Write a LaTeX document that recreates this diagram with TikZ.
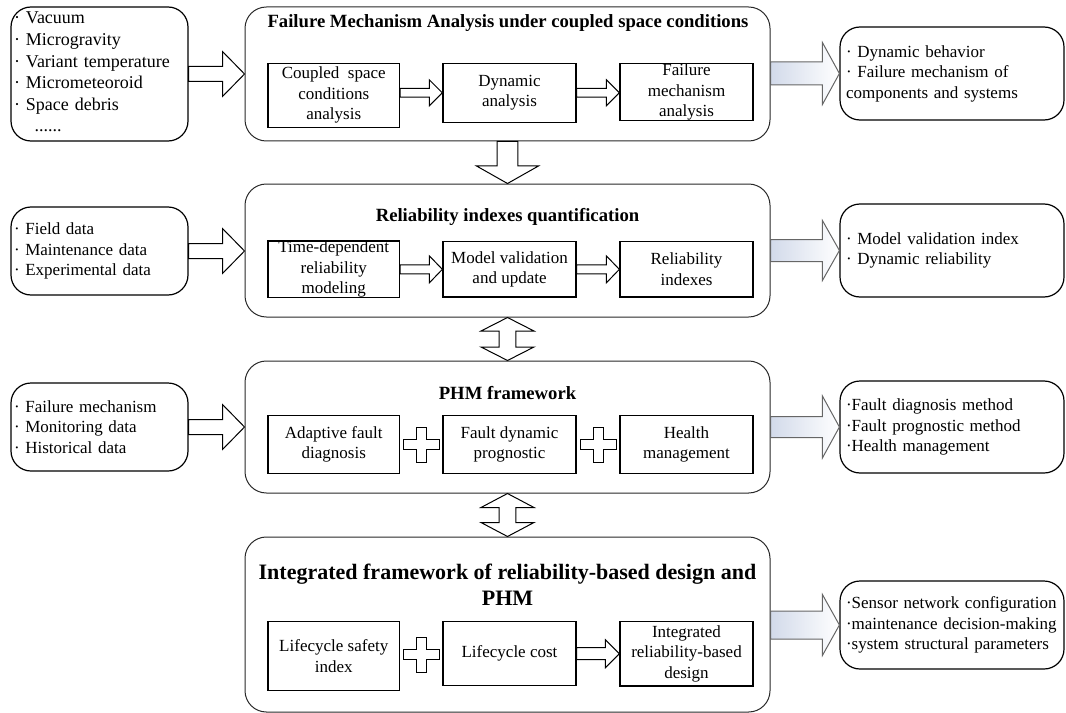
\documentclass[tikz,border=0pt]{standalone}
\usepackage{fontspec}
\setmainfont{Liberation Serif}
\usetikzlibrary{calc}
\definecolor{arrowblue}{RGB}{210,218,234}
\definecolor{boxline}{RGB}{40,40,40}
\tikzset{
  body/.style={font=\rmfamily\fontsize{12.75pt}{15.4pt}\selectfont},
  sidebox/.style={draw=black, line width=0.9pt, rounded corners=15pt, inner ysep=0pt, align=left, body},
  lbox/.style={sidebox, inner xsep=2.25pt, text width=128.25pt, minimum width=132.75pt},
  rbox/.style={sidebox, inner xsep=4.5pt, text width=159pt, minimum width=168pt},
  mainbox/.style={draw=boxline, line width=0.75pt, rounded corners=16pt, minimum width=393.75pt, inner sep=0pt},
  ibox/.style={draw=black, line width=1pt, inner sep=0pt, align=center, body},
  ttl/.style={font=\rmfamily\fontsize{14pt}{16.8pt}\selectfont\bfseries, align=center, inner sep=0pt},
  bigttl/.style={font=\rmfamily\fontsize{16.5pt}{19.7pt}\selectfont\bfseries, align=center, inner sep=0pt},
  warrow/.style={draw=black, line width=0.75pt, fill=white, line join=miter},
  barrow/.style={draw=black!60, line width=0.75pt, left color=arrowblue, right color=white},
  plusshape/.style={draw=black, line width=0.75pt, fill=white},
}
% horizontal block arrow: style, start, tip, shaft half, head half, head length
\newcommand\hblockarrow[6]{%
  \draw[#1] ($(#2)+(0,-#4)$) -- ($(#3)+(-#6,-#4)$) -- ($(#3)+(-#6,-#5)$) -- (#3)
    -- ($(#3)+(-#6,#5)$) -- ($(#3)+(-#6,#4)$) -- ($(#2)+(0,#4)$) -- cycle;}
% vertical (downward) block arrow
\newcommand\vblockarrow[6]{%
  \draw[#1] ($(#2)+(-#4,0)$) -- ($(#3)+(-#4,-#6)$) -- ($(#3)+(-#5,-#6)$) -- (#3)
    -- ($(#3)+(#5,-#6)$) -- ($(#3)+(#4,-#6)$) -- ($(#2)+(#4,0)$) -- cycle;}
% vertical double block arrow
\newcommand\dblockarrow[6]{%
  \draw[#1] (#2) -- ($(#2)+(#5,#6)$) -- ($(#2)+(#4,#6)$) -- ($(#3)+(#4,-#6)$)
    -- ($(#3)+(#5,-#6)$) -- (#3) -- ($(#3)+(-#5,-#6)$) -- ($(#3)+(-#4,-#6)$)
    -- ($(#2)+(-#4,#6)$) -- ($(#2)+(-#5,#6)$) -- cycle;}
% plus sign
\newcommand\myplus[1]{%
  \draw[plusshape] ($(#1)+(-5,-17.5)$) -- ($(#1)+(5,-17.5)$) -- ($(#1)+(5,-5)$)
    -- ($(#1)+(18,-5)$) -- ($(#1)+(18,5)$) -- ($(#1)+(5,5)$) -- ($(#1)+(5,17.5)$)
    -- ($(#1)+(-5,17.5)$) -- ($(#1)+(-5,5)$) -- ($(#1)+(-18,5)$) -- ($(#1)+(-18,-5)$)
    -- ($(#1)+(-5,-5)$) -- cycle;}
\begin{document}
\begin{tikzpicture}[x=0.75pt,y=-0.75pt]
\useasboundingbox (0,0) rectangle (1066,713);

% ---------- left boxes ----------
\node[lbox, minimum height=134*0.75pt, font=\rmfamily\fontsize{13.5pt}{16.2pt}\selectfont] (L1) at (99.5,74)
  {· Vacuum\\ · Microgravity\\ · Variant temperature\\ · Micrometeoroid\\ · Space debris\\ \hspace*{1.15em}......\vphantom{p}};
\node[lbox, minimum height=88*0.75pt] (L2) at (99.5,251)
  {· Field data\\ · Maintenance data\\ · Experimental data};
\node[lbox, minimum height=88*0.75pt] (L3) at (99.5,427)
  {· Failure mechanism\\ · Monitoring data\\ · Historical data};

% ---------- main boxes ----------
\node[mainbox, minimum height=134*0.75pt] (M1) at (507.5,74) {};
\node[mainbox, minimum height=133*0.75pt] (M2) at (507.5,250.5) {};
\node[mainbox, minimum height=132*0.75pt] (M3) at (507.5,427) {};
\node[mainbox, minimum height=175*0.75pt] (M4) at (507.5,624.5) {};

\node[ttl] (T1) at (508,23) {Failure Mechanism Analysis under coupled space conditions};
\node[ttl] (T2) at (507.5,217) {Reliability indexes quantification};
\node[ttl] (T3) at (507.5,393) {PHM framework};
\node[bigttl] (T4) at (507.5,585) {Integrated framework of reliability-based design and\\ PHM};

% ---------- right boxes ----------
\node[rbox, minimum height=93*0.75pt] (R1) at (952,73.5)
  {· Dynamic behavior\\ · Failure mechanism of\\ components and systems};
\node[rbox, minimum height=93*0.75pt] (R2) at (952,250.5)
  {· Model validation index\\ · Dynamic reliability};
\node[rbox, minimum height=92*0.75pt] (R3) at (952,427)
  {·Fault diagnosis method\\ ·Fault prognostic method\\ ·Health management};
\node[rbox, minimum height=88*0.75pt] (R4) at (952,625)
  {·Sensor network configuration\\ ·maintenance decision-making\\ ·system structural parameters};

% ---------- inner boxes ----------
\node[ibox, minimum width=131.5*0.75pt, minimum height=64*0.75pt] (A1) at (333.75,95.3) {Coupled~~space\\ conditions\\ analysis};
\node[ibox, minimum width=133*0.75pt, minimum height=59*0.75pt] (B1) at (509.5,92.8) {Dynamic\\ analysis};
\node[ibox, minimum width=133*0.75pt, minimum height=57.4*0.75pt] (C1) at (686.5,92) {Failure\\ mechanism\\ analysis};

\node[ibox, minimum width=131.5*0.75pt, minimum height=55.3*0.75pt] (A2) at (333.75,269.35) {Time-dependent\\ reliability\\ modeling};
\node[ibox, minimum width=133*0.75pt, minimum height=55.3*0.75pt] (B2) at (509.5,269.35) {Model validation\\ and update};
\node[ibox, minimum width=133*0.75pt, minimum height=55.3*0.75pt] (C2) at (686.5,269.35) {Reliability\\ indexes};

\node[ibox, minimum width=131.5*0.75pt, minimum height=57.6*0.75pt] (A3) at (333.75,444.5) {Adaptive fault\\ diagnosis};
\node[ibox, minimum width=133*0.75pt, minimum height=57.6*0.75pt] (B3) at (509.5,444.5) {Fault dynamic\\ prognostic};
\node[ibox, minimum width=133*0.75pt, minimum height=57.6*0.75pt] (C3) at (686.5,444.5) {Health\\ management};

\node[ibox, minimum width=131.5*0.75pt, minimum height=69*0.75pt] (A4) at (333.75,656.2) {Lifecycle safety\\ index};
\node[ibox, minimum width=133*0.75pt, minimum height=64*0.75pt] (B4) at (509.5,653.7) {Lifecycle cost};
\node[ibox, minimum width=133*0.75pt, minimum height=64.3*0.75pt] (C4) at (686.5,653.85) {Integrated\\ reliability-based\\ design};

% ---------- left input arrows ----------
\hblockarrow{warrow}{L1.east}{M1.west |- L1.east}{7.5}{22.5}{22}
\hblockarrow{warrow}{L2.east}{M2.west |- L2.east}{7.5}{22.5}{22}
\hblockarrow{warrow}{L3.east}{M3.west |- L3.east}{7.5}{22.5}{22}

% ---------- right output arrows ----------
\hblockarrow{barrow}{M1.east |- R1.west}{R1.west}{11.5}{31}{17}
\hblockarrow{barrow}{M2.east |- R2.west}{R2.west}{11}{30}{17}
\hblockarrow{barrow}{M3.east |- R3.west}{R3.west}{10.5}{31}{17}
\hblockarrow{barrow}{M4.east |- R4.west}{R4.west}{14}{30.5}{17}

% ---------- inner arrows ----------
\hblockarrow{warrow}{A1.east |- B1.west}{B1.west}{4.3}{13}{13}
\hblockarrow{warrow}{B1.east}{C1.west |- B1.east}{4.3}{13}{13}
\hblockarrow{warrow}{A2.east}{B2.west}{4.5}{13.5}{13}
\hblockarrow{warrow}{B2.east}{C2.west}{4.5}{13.5}{13}
\hblockarrow{warrow}{B4.east}{C4.west |- B4.east}{6}{14}{14}

% ---------- plus signs ----------
\coordinate (P1) at ($(A3.east)!0.5!(B3.west)$);
\coordinate (P2) at ($(B3.east)!0.5!(C3.west)$);
\coordinate (P3) at ($(A4.east)!0.5!(B4.west)$);
\myplus{P1}
\myplus{P2}
\myplus{P3}

% ---------- vertical arrows ----------
\vblockarrow{warrow}{M1.south}{M2.north}{10.3}{31.3}{17.7}
\dblockarrow{warrow}{M2.south}{M3.north}{8.3}{26.5}{13.5}
\dblockarrow{warrow}{M3.south}{M4.north}{8.3}{26.5}{14}
\end{tikzpicture}
\end{document}
